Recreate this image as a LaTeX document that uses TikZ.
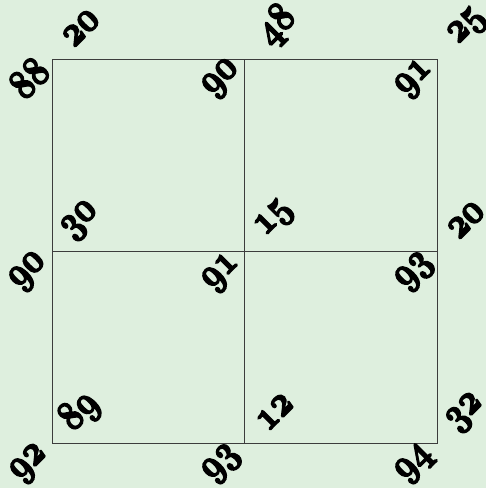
\documentclass[tikz,border=0pt]{standalone}
\usetikzlibrary{positioning}
\definecolor{paleGreen}{RGB}{222,239,222}
\definecolor{gridGray}{RGB}{60,60,60}
\DeclareFontFamily{OML}{oldnum}{\skewchar\font=127}
\DeclareFontShape{OML}{oldnum}{b}{it}{<->cmmib10}{}

\begin{document}
\begin{tikzpicture}[x=1pt, y=-1pt,
    num/.style={font=\fontsize{42}{42}\usefont{OML}{oldnum}{b}{it}, rotate=45,
      xscale=0.8, inner sep=0pt,
      execute at begin node=\special{pdf:literal direct 2 Tr 1.6 w},
      execute at end node=\special{pdf:literal direct 0 Tr}},
    cell/.style={draw=gridGray, line width=1pt}
  ]
    \fill[paleGreen] (0,0) rectangle (486,488);
    \useasboundingbox (0,0) rectangle (486,488);

    % grid corners
    \coordinate (a1) at (52,59);
    \coordinate (a2) at (244,59);
    \coordinate (a3) at (437,59);
    \coordinate (b1) at (52,251);
    \coordinate (b2) at (244,251);
    \coordinate (b3) at (437,251);
    \coordinate (c1) at (52,443);
    \coordinate (c2) at (244,443);
    \coordinate (c3) at (437,443);

    % the four cells
    \draw[cell] (a1) rectangle (c3);
    \draw[cell] (a2) -- (c2);
    \draw[cell] (b1) -- (b3);

    % top row
    \node[num] (ua1) at (81,28) {20};
    \node[num] (ua2) at (277,26) {48};
    \node[num] (ua3) at (468,27) {25};
    \node[num] (da1) at (29,78) {88};
    \node[num] (da2) at (222,79) {90};
    \node[num] (da3) at (415,79) {91};

    % middle row
    \node[num] (ub1) at (81,221) {30};
    \node[num] (ub2) at (275,219) {15};
    \node[num] (ub3) at (466,220) {20};
    \node[num] (db1) at (29,272) {90};
    \node[num] (db2) at (222,273) {91};
    \node[num] (db3) at (415,272) {93};

    % bottom row
    \node[num] (uc1) at (80,412) {89};
    \node[num] (uc2) at (275,412) {12};
    \node[num] (uc3) at (466,413) {32};
    \node[num] (dc1) at (30,464) {92};
    \node[num] (dc2) at (222,464) {93};
    \node[num] (dc3) at (415,464) {94};
  \end{tikzpicture}
\end{document}
